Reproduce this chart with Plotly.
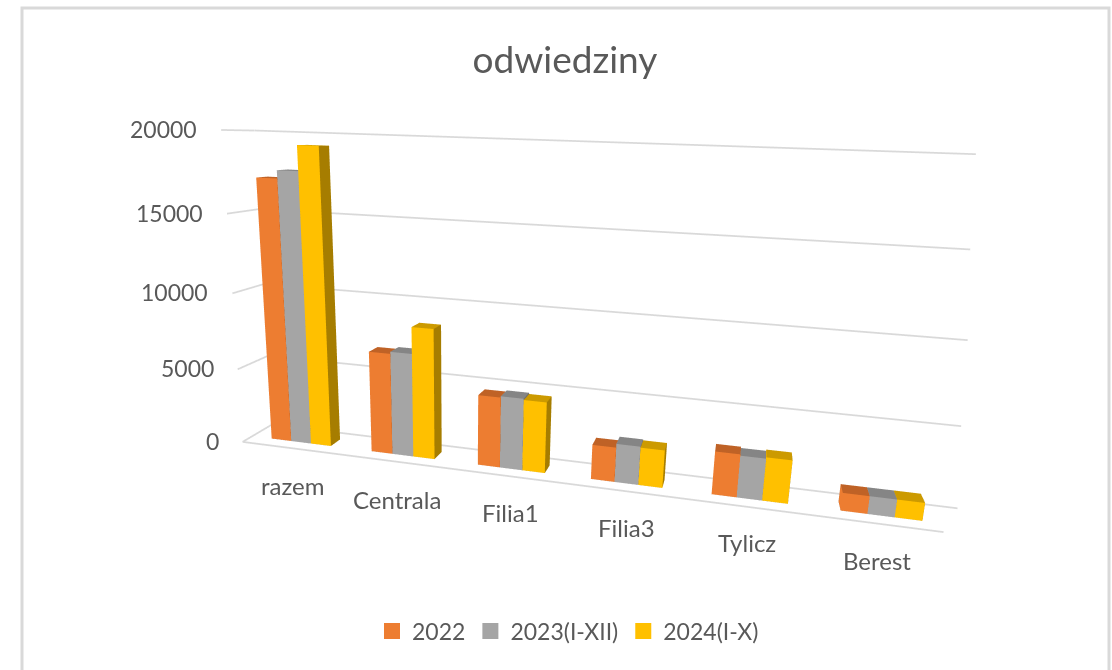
import plotly.graph_objects as go

categories = ["razem", "Centrala", "Filia1", "Filia3", "Tylicz", "Berest"]
series_names = ["2022", "2023(I-XII)", "2024(I-X)"]
values_2022 = [17200, 6700, 4600, 2220, 2700, 1090]
values_2023 = [17700, 6830, 4680, 2460, 2620, 1090]
values_2024 = [19250, 8550, 4600, 2400, 2700, 1090]
z_ticks = [0, 5000, 10000, 15000, 20000]

FRONT = ["#ED7D31", "#A5A5A5", "#FFC000"]
TOP = ["#BF6226", "#858585", "#CC9A00"]
SIDE = ["#9A5120", "#6B6B6B", "#A67D00"]
GROUP_W = 0.60
DEPTH = 0.36
GRID = "#D9D9D9"
TXT = "#595959"
FONT = "Lato"
GRID_END = [6.12, 6.05, 6.0, 5.92, 5.86]
FLOOR_END = 5.92


def box_mesh(series, s_idx, name):
    xs, ys, zs, i, j, k, fc = [], [], [], [], [], [], []
    bw = GROUP_W / 3
    for c, v in enumerate(series):
        x0 = c + 0.5 - GROUP_W / 2 + s_idx * bw
        x1 = x0 + bw
        y0, y1 = 0.5 - DEPTH / 2, 0.5 + DEPTH / 2
        b = len(xs)
        xs += [x0, x1, x1, x0, x0, x1, x1, x0]
        ys += [y0, y0, y1, y1, y0, y0, y1, y1]
        zs += [0, 0, 0, 0, v, v, v, v]
        quads = [((0, 1, 5, 4), FRONT), ((4, 5, 6, 7), TOP), ((1, 2, 6, 5), SIDE),
                 ((3, 0, 4, 7), FRONT), ((2, 3, 7, 6), SIDE), ((0, 3, 2, 1), SIDE)]
        for (p, q, r, t), col in quads:
            i += [b + p, b + p]
            j += [b + q, b + r]
            k += [b + r, b + t]
            fc += [col[s_idx]] * 2
    return go.Mesh3d(x=xs, y=ys, z=zs, i=i, j=j, k=k, facecolor=fc, flatshading=True,
                     lighting=dict(ambient=1, diffuse=0, specular=0, roughness=1, fresnel=0),
                     hoverinfo="skip", name=name, showlegend=False, legendgroup=name)


fig = go.Figure()

# wall grid lines at each z tick, front edge of the floor
for t, end in zip(z_ticks, GRID_END):
    fig.add_trace(go.Scatter3d(x=[0, 0, end], y=[0, 1, 1], z=[t, t, t], mode="lines", showlegend=False,
                               hoverinfo="skip", line=dict(color=GRID, width=3.5)))
fig.add_trace(go.Scatter3d(x=[0, FLOOR_END], y=[0, 0], z=[0, 0], mode="lines", showlegend=False, hoverinfo="skip",
                           line=dict(color=GRID, width=3.5)))

for idx, (name, vals) in enumerate(zip(series_names, [values_2022, values_2023, values_2024])):
    fig.add_trace(box_mesh(vals, idx, name))
    fig.add_trace(go.Scatter3d(x=[None], y=[None], z=[None], mode="markers", name=name, legendgroup=name,
                               marker=dict(symbol="square", size=16, color=FRONT[idx]), hoverinfo="skip"))

plain = dict(showgrid=False, zeroline=False, showline=False, showticklabels=False, ticks="",
             showbackground=False, showspikes=False, title="")

tick_ann = [dict(x=0, y=0, z=t, text=str(t), showarrow=False, xanchor="right", xshift=-22, yshift=1,
                 font=dict(size=23, color=TXT, family=FONT)) for t in z_ticks]
label_shift = [(1, 37), (1, 38), (5, 37), (3, 37), (-2, 35), (-7, 36)]
cat_ann = [dict(x=c + 0.5, y=0, z=0, text=name, showarrow=False, xshift=sh[0], yshift=-sh[1],
                font=dict(size=24, color=TXT, family=FONT))
           for c, (name, sh) in enumerate(zip(categories, label_shift))]

fig.update_layout(
    width=1112, height=670, margin=dict(l=0, r=0, t=0, b=0), paper_bgcolor="white",
    font=dict(family=FONT, color=TXT),
    title=dict(text="odwiedziny", x=565 / 1112, xanchor="center", y=1 - 60 / 670, yanchor="middle",
               font=dict(size=37, color=TXT, family=FONT)),
    showlegend=True,
    legend=dict(orientation="h", x=568 / 1112, xanchor="center", y=1 - 631 / 670, yanchor="middle",
                font=dict(size=23, color=TXT, family=FONT), bgcolor="rgba(0,0,0,0)"),
    scene=dict(
        domain=dict(x=[0, 1], y=[0, 1]),
        dragmode="orbit",
        aspectmode="manual", aspectratio=dict(x=1.02, y=0.0789, z=0.4587),
        camera=dict(eye=dict(x=0.2085, y=-1.0495, z=0.2398),
                    center=dict(x=-0.0209, y=-0.0667, z=-0.0129),
                    up=dict(x=-0.0305, y=0, z=1)),
        xaxis=dict(range=[0, 6.12], **plain),
        yaxis=dict(range=[0, 1], **plain),
        zaxis=dict(range=[0, 20000], **plain),
        annotations=tick_ann + cat_ann,
    ),
    shapes=[dict(type="path", xref="paper", yref="paper",
                 path=f"M {22/1112} 0 L {22/1112} {1-8/670} L {1109/1112} {1-8/670} L {1109/1112} 0",
                 line=dict(color=GRID, width=3))],
)
fig.write_html("out.html", config={"displayModeBar": False}, post_script="document.body.style.margin='0';")
